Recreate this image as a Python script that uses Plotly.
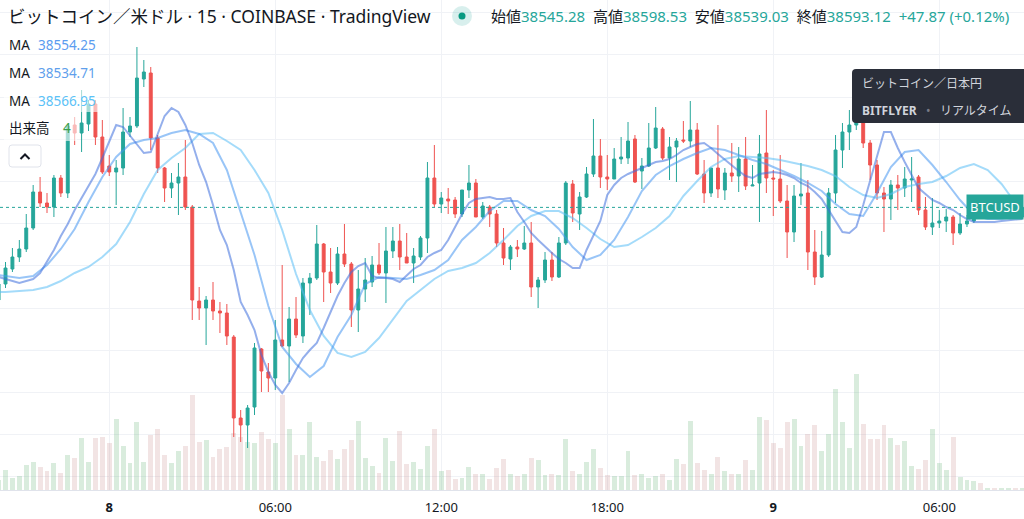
import plotly.graph_objects as go
import pandas as pd

# ---------------- data (15-minute candles, first one partly off-screen) ----------------
START = "2022-03-07 20:00"

OPEN = [
    38130, 38210, 38285, 38345, 38385, 38490, 38670, 38615, 38595, 38740,
    38665, 39005, 38965, 39010, 39110, 38945, 38800, 38770, 38790, 38970,
    39000, 39235, 39265, 38940, 38790, 38690, 38715, 38745, 38595, 38125,
    38090, 38130, 38075, 38065, 37945, 37540, 37505, 37595, 37885, 37770,
    37740, 37930, 37900, 38035, 37950, 38215, 38240, 38410, 38270, 38215,
    38360, 38310, 38080, 38185, 38220, 38305, 38265, 38375, 38425, 38345,
    38315, 38345, 38440, 38740, 38610, 38635, 38630, 38560, 38680, 38715,
    38545, 38595, 38560, 38415, 38335, 38395, 38385, 38415, 38195, 38230,
    38330, 38245, 38415, 38710, 38560, 38645, 38760, 38850, 38745, 38735,
    38835, 38840, 38935, 38775, 38800, 38890, 38985, 38840, 38895, 38930,
    38925, 38980, 38760, 38665, 38790, 38680, 38765, 38750, 38835, 38700,
    38715, 38865, 38740, 38735, 38625, 38470, 38650, 38665, 38370, 38245,
    38355, 38665, 38880, 38970, 39005, 39040, 38915, 38805, 38665, 38635,
    38705, 38690, 38730, 38745, 38580, 38495, 38515, 38525, 38545, 38465,
    38510, 38525, 38555, 38545, 38555, 38548, 38552, 38560, 38545.28,
]
HIGH = [
    38240, 38320, 38390, 38430, 38560, 38705, 38745, 38665, 38755, 38755,
    39010, 39045, 39180, 39130, 39130, 39030, 38855, 38830, 39090, 39045,
    39395, 39330, 39295, 38955, 38795, 38765, 38815, 38930, 38605, 38195,
    38150, 38220, 38120, 38110, 37955, 37580, 37605, 37915, 37890, 37815,
    38030, 38305, 38095, 38145, 38240, 38265, 38505, 38415, 38390, 38395,
    38510, 38320, 38280, 38340, 38350, 38415, 38495, 38495, 38510, 38465,
    38390, 38450, 38820, 38905, 38670, 38690, 38645, 38680, 38805, 38735,
    38620, 38605, 38580, 38490, 38405, 38430, 38500, 38520, 38245, 38370,
    38370, 38445, 38725, 38730, 38670, 38795, 39035, 38935, 38855, 38890,
    38945, 39020, 38955, 38840, 39015, 39095, 38995, 38945, 38940, 39025,
    39125, 39015, 38830, 38790, 39005, 38790, 38915, 38895, 38945, 38805,
    38955, 39080, 38780, 38855, 38705, 38705, 38815, 38730, 38480, 38475,
    38690, 38955, 39015, 39080, 39130, 39070, 38930, 38830, 38695, 38730,
    38755, 38795, 38845, 38755, 38645, 38640, 38580, 38585, 38555, 38565,
    38555, 38565, 38570, 38560, 38565, 38560, 38566, 38570, 38598.53,
]
LOW = [
    38100, 38190, 38270, 38320, 38370, 38480, 38595, 38565, 38545, 38645,
    38640, 38905, 38870, 38975, 38905, 38760, 38750, 38605, 38755, 38945,
    38990, 39195, 38880, 38765, 38620, 38640, 38555, 38580, 38030, 38030,
    37905, 38030, 37965, 37905, 37445, 37420, 37390, 37555, 37670, 37670,
    37680, 37895, 37720, 37940, 37915, 38055, 38230, 38120, 38165, 38205,
    38295, 37995, 37970, 38120, 38195, 38255, 38115, 38340, 38280, 38315,
    38215, 38330, 38365, 38595, 38565, 38560, 38540, 38545, 38640, 38545,
    38535, 38495, 38395, 38305, 38280, 38345, 38380, 38145, 38090, 38215,
    38225, 38240, 38405, 38520, 38480, 38640, 38745, 38690, 38680, 38735,
    38810, 38810, 38715, 38685, 38795, 38885, 38830, 38730, 38720, 38915,
    38895, 38755, 38615, 38645, 38640, 38630, 38720, 38670, 38680, 38700,
    38520, 38665, 38550, 38615, 38340, 38420, 38605, 38280, 38205, 38240,
    38345, 38615, 38790, 38880, 38980, 38890, 38730, 38630, 38470, 38530,
    38580, 38645, 38620, 38555, 38480, 38455, 38490, 38470, 38405, 38455,
    38495, 38515, 38535, 38535, 38540, 38538, 38545, 38540, 38539.03,
]
CLOSE = [
    38210, 38290, 38345, 38385, 38490, 38670, 38615, 38595, 38740, 38665,
    39000, 38965, 39015, 39110, 38945, 38770, 38770, 38790, 38970, 39000,
    39240, 39270, 38940, 38790, 38690, 38715, 38745, 38595, 38130, 38090,
    38130, 38075, 38065, 37950, 37540, 37505, 37590, 37890, 37775, 37740,
    37930, 37900, 38035, 37955, 38215, 38240, 38410, 38270, 38215, 38360,
    38310, 38080, 38185, 38230, 38305, 38265, 38375, 38425, 38345, 38315,
    38350, 38440, 38740, 38610, 38640, 38625, 38560, 38680, 38715, 38545,
    38600, 38560, 38415, 38340, 38395, 38385, 38415, 38195, 38230, 38330,
    38245, 38415, 38715, 38565, 38645, 38760, 38850, 38745, 38735, 38835,
    38845, 38925, 38720, 38800, 38890, 38990, 38840, 38895, 38925, 38925,
    38980, 38760, 38665, 38790, 38685, 38765, 38750, 38835, 38700, 38705,
    38860, 38740, 38735, 38625, 38470, 38650, 38660, 38370, 38245, 38355,
    38665, 38880, 38970, 39005, 39040, 38915, 38805, 38665, 38635, 38705,
    38690, 38735, 38735, 38580, 38495, 38515, 38525, 38545, 38465, 38510,
    38525, 38555, 38545, 38555, 38548, 38552, 38560, 38545, 38593.12,
]
VOLUME = [
    20, 40, 25, 28, 50, 56, 46, 38, 54, 34,
    70, 64, 105, 56, 105, 106, 94, 142, 89, 55,
    137, 57, 111, 123, 71, 55, 78, 89, 190, 96,
    100, 67, 82, 87, 114, 106, 97, 94, 117, 102,
    94, 190, 123, 70, 71, 137, 67, 58, 80, 63,
    82, 101, 139, 64, 48, 35, 105, 59, 118, 53,
    57, 43, 89, 123, 39, 40, 23, 25, 47, 32,
    33, 23, 45, 62, 33, 29, 33, 65, 61, 31,
    33, 30, 103, 38, 33, 56, 83, 45, 31, 29,
    29, 79, 30, 33, 25, 28, 32, 21, 62, 52,
    138, 55, 40, 33, 67, 39, 32, 33, 61, 41,
    147, 140, 95, 85, 137, 142, 88, 112, 130, 78,
    113, 202, 137, 85, 232, 133, 102, 102, 131, 105,
    91, 99, 48, 42, 60, 123, 55, 41, 107, 27,
    21, 18, 15, 5, 3.5, 3.2, 3.6, 3.1, 4.3,
]
# fast moving average (2nd legend row), one value per candle
MA_FAST = [
    38245, 38235, 38225, 38215, 38225, 38235, 38265, 38320, 38380, 38450,
    38510, 38580, 38640, 38700, 38760, 38840, 38925, 39005, 38995, 38950,
    38905, 38865, 38870, 38965, 39050, 39090, 39070, 39005, 38915, 38805,
    38720, 38605, 38480, 38405, 38280, 38120, 38055, 37980, 37855, 37770,
    37705, 37665, 37715, 37780, 37840, 37880, 37915, 37990, 38070, 38150,
    38215, 38270, 38300, 38315, 38250, 38240, 38240, 38235, 38220, 38255,
    38285, 38305, 38345, 38365, 38380, 38430, 38495, 38560, 38615, 38635,
    38640, 38645, 38635, 38635, 38640, 38570, 38520, 38465, 38430, 38395,
    38365, 38335, 38315, 38290, 38290, 38380, 38455, 38525, 38655, 38705,
    38740, 38760, 38775, 38790, 38805, 38820, 38825, 38835, 38855, 38880,
    38895, 38910, 38915, 38890, 38860, 38830, 38800, 38775, 38750, 38740,
    38760, 38765, 38770, 38765, 38755, 38740, 38715, 38700, 38670, 38635,
    38580, 38520, 38470, 38465, 38495, 38605, 38730, 38845, 38970, 38970,
    38890, 38820, 38755, 38690, 38660, 38630, 38615, 38595, 38580, 38555,
    38535, 38520, 38520, 38520, 38520, 38525, 38530, 38532, 38534.71,
]
# slower averages, read every other candle (candle numbers relative to 20:15)
MA_IDX = [-1, 0] + list(range(2, 147, 2)) + [147]
MA_MID = [
    38255, 38250,
    38240, 38250, 38305, 38385, 38485, 38620, 38745, 38845, 38910, 38930,
    38940, 38965, 38980, 38960, 38915, 38780, 38570, 38355, 38100, 37895,
    37810, 37745, 37800, 37945, 38055, 38210, 38245, 38240, 38235, 38255,
    38280, 38330, 38430, 38495, 38575, 38625, 38625, 38580, 38550, 38485,
    38395, 38330, 38355, 38430, 38545, 38675, 38755, 38800, 38835, 38865,
    38890, 38880, 38855, 38830, 38810, 38780, 38750, 38715, 38675, 38610,
    38560, 38550, 38665, 38795, 38870, 38880, 38805, 38720, 38630, 38555,
    38535, 38535, 38550,
    38554.25,
]
MA_SLOW = [
    38170, 38170,
    38175, 38180, 38195, 38225, 38265, 38295, 38345, 38410, 38520, 38660,
    38780, 38840, 38890, 38960, 38965, 38925, 38880, 38780, 38665, 38480,
    38260, 38080, 37950, 37865, 37845, 37870, 37940, 38030, 38125, 38180,
    38235, 38275, 38290, 38315, 38365, 38430, 38500, 38550, 38575, 38575,
    38540, 38490, 38435, 38395, 38405, 38445, 38490, 38550, 38650, 38725,
    38795, 38835, 38850, 38845, 38840, 38830, 38815, 38800, 38780, 38750,
    38695, 38655, 38640, 38660, 38695, 38710, 38720, 38750, 38790, 38810,
    38780, 38710, 38615,
    38566.95,
]
MA_LEGEND = ["38554.25", "38534.71", "38566.95"]
LEGEND_OHLC = [("始値", "38545.28"), ("高値", "38598.53"), ("安値", "38539.03"), ("終値", "38593.12")]
LEGEND_CHANGE = "+47.87 (+0.12%)"
VOLUME_LEGEND = "4"
TICK_VALS = ["2022-03-08 00:00", "2022-03-08 06:00", "2022-03-08 12:00",
             "2022-03-08 18:00", "2022-03-09 00:00", "2022-03-09 06:00"]
TICK_TEXT = ["<b>8</b>", "06:00", "12:00", "18:00", "<b>9</b>", "06:00"]

# ---------------- styling ----------------
W, H = 1024, 519
PLOT_H = 490
BAR_PX = 6.917
GREEN = "#26a69a"
RED = "#ef5350"
TEXT = "#131722"
GRID = "#f0f2f6"
FONT = "Noto Sans, Noto Sans CJK JP, sans-serif"
C_MID = "rgba(70,150,240,0.55)"
C_FAST = "rgba(60,110,220,0.55)"
C_SLOW = "rgba(90,190,245,0.55)"
LEG_COLORS = ["#5b9cf0", "#5f9fec", "#5cc2f7"]


def px(x):
    return x / W


def py(y):
    return 1 - y / PLOT_H


times = pd.date_range(START, periods=len(OPEN), freq="15min")
ma_times = [times[k + 1] for k in MA_IDX]
vol_colors = ["rgba(80,170,100,0.22)" if c >= o else "rgba(190,120,120,0.2)"
              for o, c in zip(OPEN, CLOSE)]

fig = go.Figure()
fig.add_trace(go.Bar(x=times, y=VOLUME, marker=dict(color=vol_colors, line=dict(width=0)),
                     width=640000, yaxis="y", hoverinfo="skip", showlegend=False))
fig.add_trace(go.Candlestick(
    x=times, open=OPEN, high=HIGH, low=LOW, close=CLOSE, yaxis="y2",
    increasing=dict(line=dict(color=GREEN, width=1), fillcolor=GREEN),
    decreasing=dict(line=dict(color=RED, width=1), fillcolor=RED),
    whiskerwidth=0, hoverinfo="skip", showlegend=False))
fig.add_trace(go.Scatter(x=ma_times, y=MA_SLOW, mode="lines", yaxis="y2",
                         line=dict(color=C_SLOW, width=2), hoverinfo="skip", showlegend=False))
fig.add_trace(go.Scatter(x=ma_times, y=MA_MID, mode="lines", yaxis="y2",
                         line=dict(color=C_MID, width=2), hoverinfo="skip", showlegend=False))
fig.add_trace(go.Scatter(x=times, y=MA_FAST, mode="lines", yaxis="y2",
                         line=dict(color=C_FAST, width=2), hoverinfo="skip", showlegend=False))

x_start = times[1] - pd.Timedelta(minutes=15 * 5.5 / BAR_PX)
x_end = x_start + pd.Timedelta(minutes=15 * W / BAR_PX)
FMT = "%Y-%m-%d %H:%M:%S"


def rrect(x0, y0, x1, y1, r):
    X = lambda v: f"{px(v):.5f}"
    Y = lambda v: f"{py(v):.5f}"
    return (f"M{X(x0 + r)},{Y(y0)} L{X(x1 - r)},{Y(y0)} Q{X(x1)},{Y(y0)} {X(x1)},{Y(y0 + r)} "
            f"L{X(x1)},{Y(y1 - r)} Q{X(x1)},{Y(y1)} {X(x1 - r)},{Y(y1)} "
            f"L{X(x0 + r)},{Y(y1)} Q{X(x0)},{Y(y1)} {X(x0)},{Y(y1 - r)} "
            f"L{X(x0)},{Y(y0 + r)} Q{X(x0)},{Y(y0)} {X(x0 + r)},{Y(y0)} Z")


shapes = [
    # last price line
    dict(type="line", xref="paper", x0=0, x1=1, yref="y2", y0=CLOSE[-1], y1=CLOSE[-1],
         line=dict(color=GREEN, width=1, dash="dot")),
    # legend row backdrops
    dict(type="rect", xref="paper", yref="paper", x0=px(4), x1=px(100), y0=py(112), y1=py(89),
         fillcolor="rgba(255,255,255,0.6)", line=dict(width=0)),
    dict(type="rect", xref="paper", yref="paper", x0=px(4), x1=px(77), y0=py(141), y1=py(115),
         fillcolor="rgba(255,255,255,0.6)", line=dict(width=0)),
    # collapse button
    dict(type="path", xref="paper", yref="paper", path=rrect(9, 145, 41, 167, 3),
         fillcolor="white", line=dict(color="#e0e3eb", width=1)),
    dict(type="path", xref="paper", yref="paper",
         path=f"M{px(20.5)},{py(159)} L{px(25)},{py(154.5)} L{px(29.5)},{py(159)}",
         line=dict(color=TEXT, width=2)),
    # live dot
    dict(type="circle", xref="paper", yref="paper", x0=px(452), x1=px(472), y0=py(26), y1=py(6),
         fillcolor="rgba(38,166,154,0.18)", line=dict(width=0)),
    dict(type="circle", xref="paper", yref="paper", x0=px(458.5), x1=px(465.5), y0=py(19.5), y1=py(12.5),
         fillcolor="#089981", line=dict(width=0)),
    # tooltip
    dict(type="path", xref="paper", yref="paper", path=rrect(852, 69, 1034, 123, 4),
         fillcolor="#2a2e39", line=dict(width=0)),
]


def label(x, y, text, size, color, xanchor="left"):
    return dict(x=px(x), y=py(y), xref="paper", yref="paper", text=text, showarrow=False,
                xanchor=xanchor, yanchor="middle", font=dict(size=size, color=color, family=FONT))


ohlc = "  ".join(f"{k}<span style='color:{GREEN}'>{v}</span>" for k, v in LEGEND_OHLC)
ohlc += f"  <span style='color:{GREEN}'>{LEGEND_CHANGE}</span>"

annotations = [
    label(6, 16, "ビットコイン／米ドル · 15 · COINBASE · TradingView", 17.5, TEXT),
    label(489, 16, ohlc, 15, TEXT),
]
for i, (val, col) in enumerate(zip(MA_LEGEND, LEG_COLORS)):
    annotations.append(label(7, 45 + 28 * i, "MA", 13.5, TEXT))
    annotations.append(label(36, 45 + 28 * i, val, 13.5, col))
annotations.append(label(7, 128, "出来高", 13.5, TEXT))
annotations.append(label(61, 128, VOLUME_LEGEND, 13.5, "#3a9e4a"))
annotations.append(label(860, 83, "ビットコイン／日本円", 12, "#d1d4dc"))
annotations.append(label(860, 110, "<b>BITFLYER</b>   <span style='color:#787b86'>•</span>   リアルタイム",
                         12, "#d1d4dc"))
annotations.append(dict(x=1, xref="paper", xanchor="right", y=CLOSE[-1], yref="y2", yanchor="middle",
                        text="BTCUSD", showarrow=False, bgcolor=GREEN, borderpad=3,
                        font=dict(size=13, color="white", family=FONT)))

fig.update_layout(
    width=W, height=H,
    margin=dict(l=0, r=0, t=0, b=H - PLOT_H, pad=0),
    paper_bgcolor="white", plot_bgcolor="white",
    showlegend=False, boxgap=0.4, bargap=0,
    font=dict(family=FONT, color=TEXT),
    xaxis=dict(type="date", range=[x_start.strftime(FMT), x_end.strftime(FMT)],
               tickvals=TICK_VALS, ticktext=TICK_TEXT,
               showgrid=True, gridcolor=GRID, gridwidth=1, showline=True, linecolor="#e0e3eb",
               ticks="outside", ticklen=5, tickcolor="rgba(0,0,0,0)",
               tickfont=dict(size=13, color=TEXT, family=FONT),
               rangeslider=dict(visible=False), zeroline=False, fixedrange=True),
    yaxis=dict(range=[0, 980], visible=False, fixedrange=True),
    yaxis2=dict(overlaying="y", side="right", range=[37180, 39630], showticklabels=False,
                showgrid=True, gridcolor=GRID, gridwidth=1, tick0=38511.5, dtick=211,
                zeroline=False, ticks="", fixedrange=True),
    shapes=shapes,
    annotations=annotations,
)

fig.write_html("out.html", config={"displayModeBar": False},
               post_script="document.body.style.margin='0';document.body.style.overflow='hidden';")
